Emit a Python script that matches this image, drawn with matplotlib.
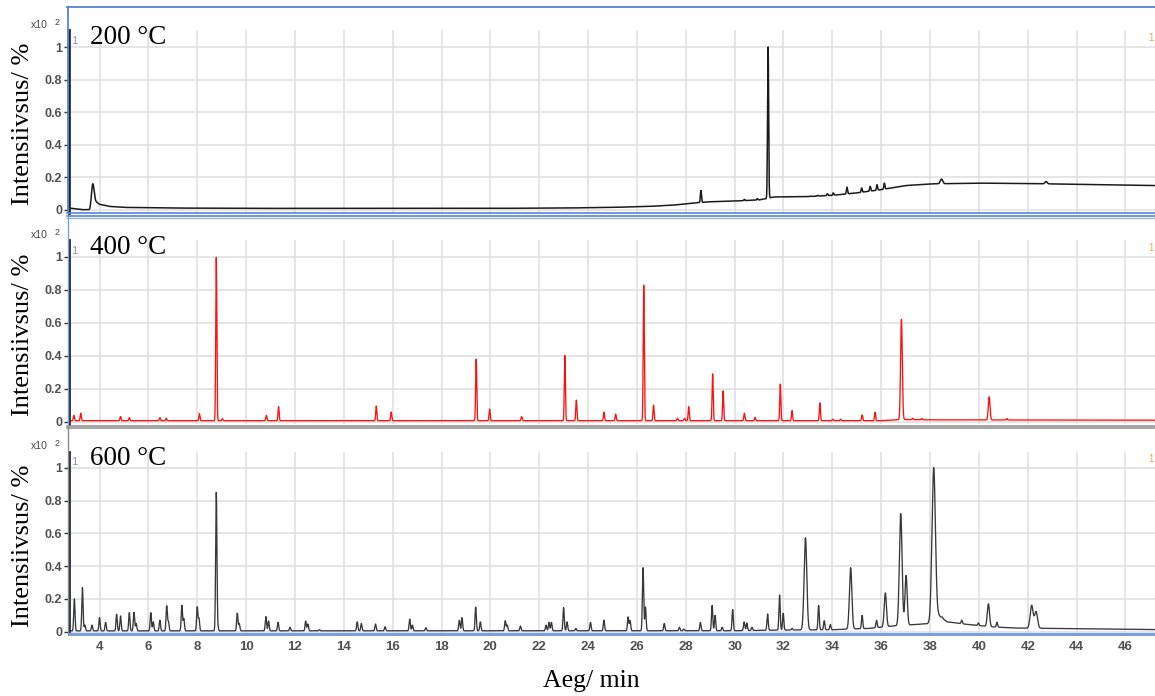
import numpy as np
import matplotlib
matplotlib.use('Agg')
import matplotlib.pyplot as plt
from matplotlib.lines import Line2D

# ---- data (retention time in min, relative intensity x100 %) ----
temps = ['200 °C', '400 °C', '600 °C']

# 200 °C
p1_times = [3.72, 28.62, 30.4, 30.93, 31.37, 33.1, 33.4, 33.8, 34.04, 34.6, 35.2, 35.55, 35.83, 36.13, 38.47, 42.75]
p1_heights = [0.16, 0.12, 0.065, 0.07, 1.0, 0.085, 0.09, 0.1, 0.105, 0.14, 0.135, 0.145, 0.155, 0.165, 0.19, 0.175]
p1_broad_t = [3.72, 38.47, 42.75]
p1_broad_w = [0.05, 0.05, 0.045]
p1_base_t = [2.75, 3.3, 3.6, 3.78, 4.0, 4.4, 5, 7, 10, 20, 23, 25, 26.5, 27.5, 28.3, 28.9, 30, 31, 31.3, 31.6, 33,
             34, 35, 36, 37, 38, 40, 43, 47.2]
p1_base_v = [0.012, 0.002, 0.002, 0.06, 0.035, 0.022, 0.016, 0.012, 0.01, 0.01, 0.012, 0.016, 0.022, 0.03, 0.042,
             0.05, 0.055, 0.062, 0.07, 0.08, 0.082, 0.09, 0.105, 0.125, 0.15, 0.16, 0.165, 0.16, 0.15]

# 400 °C
p2_times = [2.95, 3.23, 4.86, 5.22, 6.47, 6.73, 8.09, 8.78, 9.03, 10.83, 11.33, 15.33, 15.94, 19.42, 19.97,
            21.28, 23.05, 23.52, 24.65, 25.13, 26.28, 26.68, 27.66, 27.95, 28.12, 29.1, 29.53, 30.4, 30.84,
            31.87, 32.35, 33.49, 34.02, 34.34, 35.22, 35.75, 36.83, 37.29, 37.66, 40.42, 41.15]
p2_heights = [0.037, 0.05, 0.03, 0.023, 0.023, 0.02, 0.048, 1.0, 0.017, 0.037, 0.09, 0.094, 0.058, 0.38, 0.075,
              0.03, 0.40, 0.13, 0.056, 0.045, 0.83, 0.1, 0.02, 0.02, 0.09, 0.29, 0.186, 0.05, 0.025,
              0.227, 0.066, 0.113, 0.014, 0.014, 0.04, 0.056, 0.62, 0.02, 0.018, 0.15, 0.018]
p2_broad_t = [36.83, 40.42]
p2_broad_w = [0.035, 0.035]
p2_base_t = [2.75, 36.0, 36.9, 38.0, 47.2]
p2_base_v = [0.005, 0.005, 0.012, 0.01, 0.008]

# 600 °C
p3_times = [2.97, 3.3, 3.4, 3.69, 4.0, 4.25, 4.7, 4.86, 5.22, 5.41, 5.5, 6.1, 6.2, 6.47, 6.75, 6.82, 7.37, 7.45,
            8.0, 8.07, 8.78, 8.84, 9.64, 9.72, 10.81, 10.92, 11.31, 11.8, 12.44, 12.53, 13.0, 14.55, 14.72,
            15.3, 15.69, 16.7, 16.81, 17.36, 18.73, 18.84, 19.4, 19.59, 20.61, 20.69, 21.23, 22.28, 22.4,
            22.5, 23.0, 23.14, 23.5, 24.1, 24.65, 25.64, 25.72, 26.25, 26.35, 27.12, 27.74, 27.92, 28.6,
            29.08, 29.2, 29.49, 29.92, 30.39, 30.5, 30.71, 31.35, 31.84, 31.99, 32.35, 32.9, 33.44, 33.67,
            33.92, 34.75, 35.22, 35.81, 36.17, 36.8, 37.02, 37.58, 38.15, 38.5, 39.3, 39.98, 40.39, 40.74,
            42.16, 42.34]
p3_heights = [0.2, 0.27, 0.04, 0.04, 0.086, 0.057, 0.106, 0.096, 0.116, 0.118, 0.05, 0.116, 0.06, 0.07, 0.157, 0.06,
              0.16, 0.08, 0.15, 0.08, 0.85, 0.03, 0.113, 0.05, 0.092, 0.065, 0.057, 0.027, 0.065, 0.047, 0.012,
              0.06, 0.05, 0.047, 0.03, 0.077, 0.04, 0.025, 0.07, 0.086, 0.15, 0.06, 0.067, 0.04, 0.035, 0.04,
              0.057, 0.057, 0.147, 0.06, 0.02, 0.057, 0.07, 0.09, 0.067, 0.39, 0.15, 0.05, 0.027, 0.016,
              0.057, 0.16, 0.1, 0.027, 0.135, 0.06, 0.053, 0.027, 0.108, 0.224, 0.112, 0.02, 0.573, 0.16,
              0.067, 0.043, 0.39, 0.1, 0.07, 0.237, 0.72, 0.343, 0.045, 1.0, 0.09, 0.07, 0.053, 0.17, 0.057,
              0.16, 0.122]
p3_broad_t = [32.9, 34.75, 36.17, 36.8, 37.02, 38.15, 40.39, 42.16, 42.34]
p3_broad_w = [0.055, 0.05, 0.045, 0.055, 0.045, 0.07, 0.045, 0.06, 0.06]
p3_base_t = [2.75, 30, 32, 34, 35.5, 36.5, 37.5, 38.0, 38.35, 38.7, 39.5, 40.5, 41.5, 43, 47.2]
p3_base_v = [0.005, 0.006, 0.01, 0.012, 0.02, 0.035, 0.045, 0.05, 0.1, 0.06, 0.045, 0.03, 0.022, 0.02, 0.013]

x_ticks = list(range(4, 47, 2))
y_ticks = [0, 0.2, 0.4, 0.6, 0.8, 1]

W, H = 1155, 696
BLUE = '#5585d6'
GRAY = '#8c8c8c'


def fx(px):
    return px / W


def fy(py):
    return 1 - py / H


def trace(t, times, heights, base_t, base_v, sigma, broad_t=(), broad_w=()):
    base = np.interp(t, base_t, base_v)
    y = base.copy()
    for tp, hp in zip(times, heights):
        s = sigma
        if tp in broad_t:
            s = broad_w[list(broad_t).index(tp)]
        amp = hp - np.interp(tp, base_t, base_v)
        y += amp * np.exp(-0.5 * ((t - tp) / s) ** 2)
    return y


def hline(y, x0, x1, color, lw):
    plt.gcf().add_artist(Line2D([fx(x0), fx(x1)], [fy(y), fy(y)], color=color, lw=lw, transform=plt.gcf().transFigure))


def vline(x, y0, y1, color, lw):
    plt.gcf().add_artist(Line2D([fx(x), fx(x)], [fy(y0), fy(y1)], color=color, lw=lw, transform=plt.gcf().transFigure))


fig = plt.figure(figsize=(11.55, 6.96), dpi=100)
fig.patch.set_facecolor('white')

t = np.arange(2.75, 47.21, 0.004)
signals = [
    trace(t, p1_times, p1_heights, p1_base_t, p1_base_v, 0.022, p1_broad_t, p1_broad_w),
    trace(t, p2_times, p2_heights, p2_base_t, p2_base_v, 0.022, p2_broad_t, p2_broad_w),
    trace(t, p3_times, p3_heights, p3_base_t, p3_base_v, 0.026, p3_broad_t, p3_broad_w),
]
colors = ['#1a1a1a', '#ff1010', '#383838']
lws = [1.1, 0.95, 0.95]
# (axes top, y=0, y=1) in pixels
panels = [(30, 210, 47), (240, 421.5, 256.7), (451.7, 631.7, 467.7)]

# panel frames
hline(7, 67, 1155, BLUE, 1.3)
vline(67.5, 7, 213, BLUE, 1.3)
hline(213, 67, 1155, BLUE, 1.2)
hline(215.5, 67, 1155, BLUE, 1.2)
hline(217.5, 67, 1155, '#9ab5e6', 1.0)
vline(67.5, 217, 426, '#7fa0da', 1.0)
hline(425.5, 67, 1155, GRAY, 1.1)
hline(428, 67, 1155, GRAY, 1.1)
vline(67.5, 428, 634, GRAY, 1.0)

for i in range(3):
    top, zero, one = panels[i]
    unit = zero - one
    bottom = zero + 2.5
    ax = fig.add_axes([fx(69), fy(bottom), fx(1155) - fx(69), (bottom - top) / H])
    ax.plot(t, signals[i], color=colors[i], lw=lws[i])
    ax.set_xlim(2.75, 47.21)
    ax.set_ylim(-(bottom - zero) / unit, 1 + (one - top) / unit)
    ax.set_xticks(x_ticks)
    ax.set_yticks(y_ticks)
    ax.set_yticklabels(['0', '0.2', '0.4', '0.6', '0.8', '1'])
    ax.grid(True, color='#dedede', lw=1.1)
    ax.set_axisbelow(True)
    for s in ['top', 'right', 'bottom']:
        ax.spines[s].set_visible(False)
    ax.spines['left'].set_color('#222a3a')
    ax.spines['left'].set_linewidth(2.0)
    ax.tick_params(axis='y', length=3.5, width=1.0, color='#333333', pad=1.5,
                   labelsize=9, labelcolor='#505050')
    for lab in ax.get_yticklabels():
        lab.set_fontfamily('Liberation Sans')
        lab.set_fontweight('bold')
    if i == 2:
        ax.spines['bottom'].set_visible(True)
        ax.spines['bottom'].set_color('#7aa0e0')
        ax.spines['bottom'].set_linewidth(2.2)
        ax.tick_params(axis='x', length=0, pad=5, labelsize=9.5, labelcolor='#505050')
        for lab in ax.get_xticklabels():
            lab.set_fontfamily('Liberation Sans')
            lab.set_fontweight('bold')
    else:
        ax.tick_params(axis='x', length=0, labelbottom=False)

    # panel texts
    fig.text(fx(90), fy(one - 3), temps[i], fontsize=19.5, family='Liberation Serif', va='baseline', ha='left')
    fig.text(fx(23), fy(zero - 5), 'Intensiivsus/ %', fontsize=19, family='Liberation Serif',
             rotation=90, ha='center', va='bottom')
    fig.text(fx(31), fy(one - 19), 'x10', fontsize=7.5, family='Liberation Sans', color='#444444', va='baseline')
    fig.text(fx(55), fy(one - 22), '2', fontsize=6.5, family='Liberation Sans', color='#444444', va='baseline')
    fig.text(fx(71), fy(one - 3), '1', fontsize=8, family='Liberation Sans', color='#8d93ad', va='baseline')
    fig.text(fx(1148), fy(one - 6), '1', fontsize=7, family='Liberation Sans', color='#e0a850', va='baseline')

fig.text(fx(591), fy(687), 'Aeg/ min', fontsize=18.5, family='Liberation Serif', ha='center', va='baseline')

plt.savefig('out.png', dpi=100)
